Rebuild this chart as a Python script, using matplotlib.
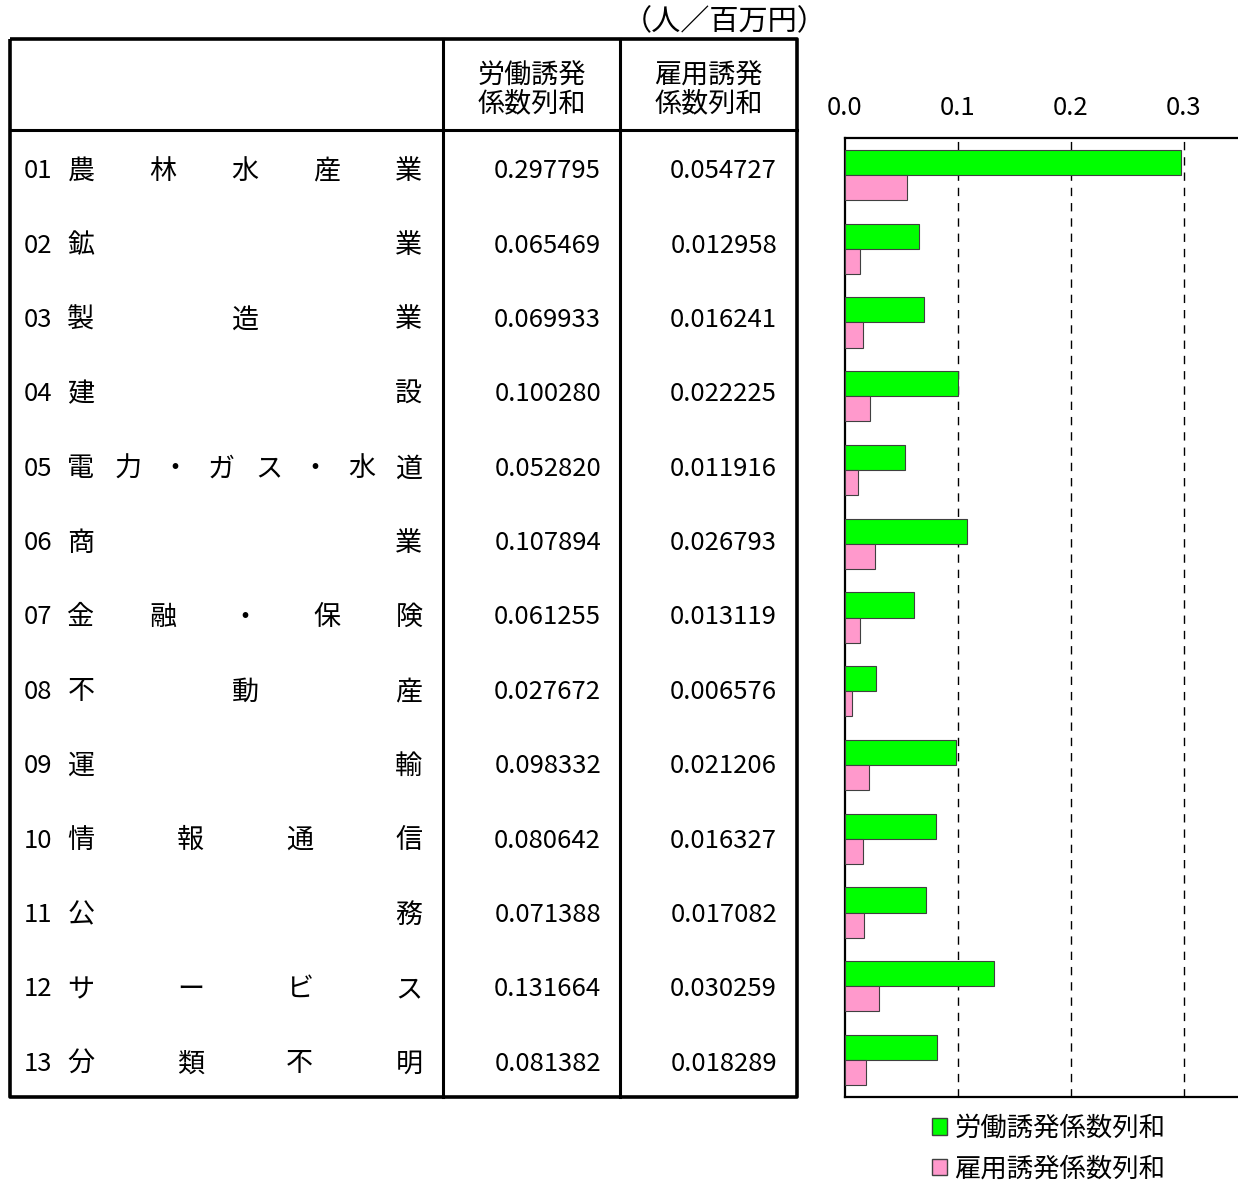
import matplotlib
matplotlib.use("Agg")
import matplotlib.pyplot as plt
from matplotlib.patches import Patch
import numpy as np

plt.rcParams['font.family'] = ['Noto Sans CJK JP', 'DejaVu Sans']

codes = ["01", "02", "03", "04", "05", "06", "07", "08", "09", "10", "11", "12", "13"]
sectors = ["農林水産業", "鉱業", "製造業", "建設", "電力・ガス・水道", "商業", "金融・保険",
           "不動産", "運輸", "情報通信", "公務", "サービス", "分類不明"]
labor = [0.297795, 0.065469, 0.069933, 0.100280, 0.052820, 0.107894, 0.061255,
         0.027672, 0.098332, 0.080642, 0.071388, 0.131664, 0.081382]
employ = [0.054727, 0.012958, 0.016241, 0.022225, 0.011916, 0.026793, 0.013119,
          0.006576, 0.021206, 0.016327, 0.017082, 0.030259, 0.018289]
col_headers = ["労働誘発\n係数列和", "雇用誘発\n係数列和"]
series_names = ["労働誘発係数列和", "雇用誘発係数列和"]
unit_label = "（人／百万円）"
xticks = [0.0, 0.1, 0.2, 0.3]
xtick_labels = ["0.0", "0.1", "0.2", "0.3"]

W, H = 1238, 1185
fig = plt.figure(figsize=(W / 100, H / 100), dpi=100)
fig.patch.set_facecolor("white")

# ---- table overlay in pixel coordinates ----
tx = fig.add_axes([0, 0, 1, 1])
tx.set_xlim(0, W)
tx.set_ylim(H, 0)
tx.axis("off")

L, R, T, B = 10, 797, 39, 1097
c1, c2 = 443, 620
hdr = 130
tx.plot([L, R, R, L, L], [T, T, B, B, T], color="black", lw=2.6, solid_capstyle="butt")
tx.plot([c1, c1], [T, B], color="black", lw=2.2)
tx.plot([c2, c2], [T, B], color="black", lw=2.2)
tx.plot([L, R], [hdr, hdr], color="black", lw=2.2)

fs = 19.5
nfs = 18.5
dy = 4
tx.text((c1 + c2) / 2, 86 + dy, col_headers[0], ha="center", va="center", fontsize=fs, linespacing=1.05)
tx.text((c2 + R) / 2, 86 + dy, col_headers[1], ha="center", va="center", fontsize=fs, linespacing=1.05)
tx.text(725, 18 + dy, unit_label, ha="center", va="center", fontsize=fs + 1.5)

n = len(sectors)
row_h = (B - hdr) / n
for i in range(n):
    yc = hdr + row_h * (i + 0.5) + dy
    tx.text(24, yc, codes[i], ha="left", va="center", fontsize=nfs)
    chars = list(sectors[i])
    xs0, xs1 = 81, 409
    pos = np.linspace(xs0, xs1, len(chars)) if len(chars) > 1 else [xs0]
    for ch, px in zip(chars, pos):
        tx.text(px, yc, ch, ha="center", va="center", fontsize=fs)
    tx.text(601, yc, f"{labor[i]:.6f}", ha="right", va="center", fontsize=nfs)
    tx.text(777, yc, f"{employ[i]:.6f}", ha="right", va="center", fontsize=nfs)

# ---- bar chart ----
axL, axR, axT, axB = 845, 1240, 138, 1097
ax = fig.add_axes([axL / W, 1 - axB / H, (axR - axL) / W, (axB - axT) / H])
y = np.arange(n)
bh = 0.34
ax.barh(y - bh / 2, labor, height=bh, color="#00FF00", edgecolor="#404040", linewidth=0.8, zorder=3)
ax.barh(y + bh / 2, employ, height=bh, color="#FF99CC", edgecolor="#404040", linewidth=0.8, zorder=3)
ax.set_ylim(n - 0.5, -0.5)
ax.set_xlim(0, 0.35)
for xv in xticks[1:]:
    ax.axvline(xv, color="black", lw=1.0, ls=(0, (6, 5)), zorder=1)
ax.set_yticks([])
ax.xaxis.tick_top()
ax.set_xticks(xticks)
ax.set_xticklabels(xtick_labels, fontsize=nfs)
ax.tick_params(axis="x", length=0, pad=12)
for s in ["left", "top", "bottom"]:
    ax.spines[s].set_linewidth(1.6)
ax.spines["right"].set_visible(False)

handles = [Patch(facecolor="#00FF00", edgecolor="#404040"),
           Patch(facecolor="#FF99CC", edgecolor="#404040")]
fig.legend(handles, series_names, loc="upper left",
           bbox_to_anchor=(932 / W, 1 - 1115 / H), frameon=False,
           fontsize=19, handlelength=0.58, handleheight=0.58, handletextpad=0.27,
           labelspacing=0.5, borderpad=0, borderaxespad=0)

fig.savefig("out.png", dpi=100, facecolor="white")
